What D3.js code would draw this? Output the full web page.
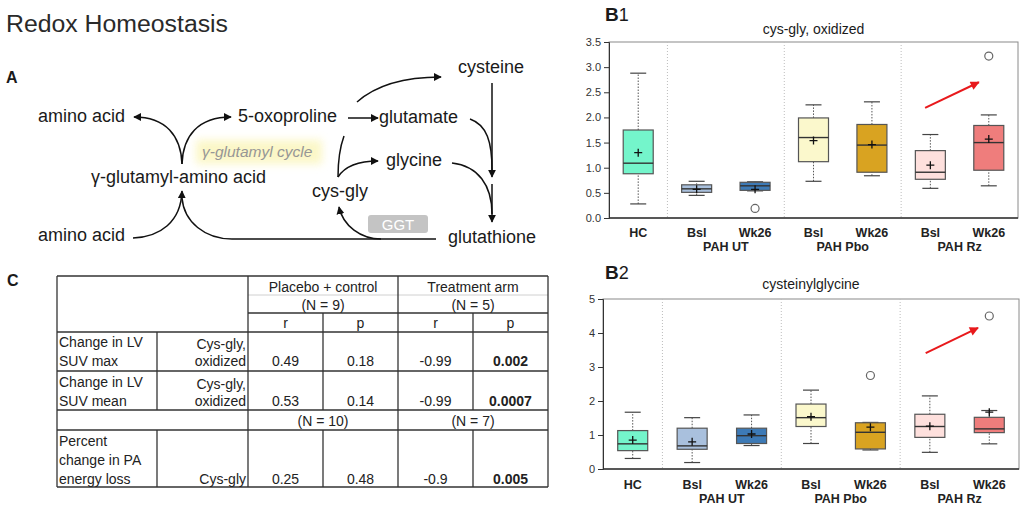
<!DOCTYPE html>
<html lang="en">
<head>
<meta charset="UTF-8">
<title>Redox Homeostasis</title>
<script src="https://d3js.org/d3.v7.min.js"></script>
<style>
  body { margin: 0; background: #fff; }
  text { font-family: "Liberation Sans", Arial, sans-serif; fill: #1a1a1a; }
</style>
</head>
<body>
<script>
// ---- box plot data ----
var categories = ["HC", "Bsl", "Wk26", "Bsl", "Wk26", "Bsl", "Wk26"];
var groupNames = ["PAH UT", "PAH Pbo", "PAH Rz"];
var groupStart = [1, 3, 5];
var boxColors = ["#74f5cb", "#a9c0dd", "#3d7ab6", "#fbf8cc", "#d9a321", "#fee0dd", "#ef7d7c"];

// B1 cys-gly, oxidized
var b1Min    = [0.28, 0.45, 0.54, 0.73, 0.84, 0.59, 0.64];
var b1Q1     = [0.88, 0.51, 0.55, 1.12, 0.91, 0.77, 0.95];
var b1Median = [1.09, 0.58, 0.64, 1.60, 1.45, 0.91, 1.50];
var b1Q3     = [1.75, 0.66, 0.71, 1.99, 1.86, 1.34, 1.84];
var b1Max    = [2.88, 0.73, 0.72, 2.25, 2.31, 1.66, 2.05];
var b1Mean   = [1.30, 0.57, 0.57, 1.54, 1.46, 1.05, 1.57];
var b1Outliers = [[2, 0.19], [6, 3.22]];
var b1Ticks = [0, 0.5, 1, 1.5, 2, 2.5, 3, 3.5];
var b1Arrow = [[4.91, 2.19], [5.83, 2.70]];

// B2 cysteinylglycine
var b2Min    = [0.31, 0.19, 0.69, 0.75, 0.56, 0.49, 0.74];
var b2Q1     = [0.54, 0.58, 0.75, 1.25, 0.59, 0.93, 1.07];
var b2Median = [0.74, 0.68, 0.98, 1.51, 1.08, 1.25, 1.18];
var b2Q3     = [1.13, 1.20, 1.20, 1.91, 1.36, 1.61, 1.52];
var b2Max    = [1.67, 1.51, 1.59, 2.32, 1.37, 2.15, 1.72];
var b2Mean   = [0.85, 0.80, 1.03, 1.54, 1.23, 1.26, 1.67];
var b2Outliers = [[4, 2.75], [6, 4.50]];
var b2Ticks = [0, 1, 2, 3, 4, 5];
var b2Arrow = [[4.93, 3.41], [5.81, 4.15]];

// ---- table data ----
var armNames = ["Placebo + control", "Treatment arm"];
var armN1 = ["(N = 9)", "(N = 5)"];
var armN2 = ["(N = 10)", "(N = 7)"];
var rowLabels = [["Change in LV", "SUV max"], ["Change in LV", "SUV mean"], ["Percent", "change in PA", "energy loss"]];
var rowMetab = [["Cys-gly,", "oxidized"], ["Cys-gly,", "oxidized"], ["Cys-gly"]];
var rPbo = ["0.49", "0.53", "0.25"];
var pPbo = ["0.18", "0.14", "0.48"];
var rRz = ["-0.99", "-0.99", "-0.9"];
var pRz = ["0.002", "0.0007", "0.005"];

var svg = d3.select("body").append("svg")
    .attr("width", 1026)
    .attr("height", 509);

var defs = svg.append("defs");
defs.append("marker").attr("id", "ah")
    .attr("viewBox", "0 0 10 10").attr("refX", 9).attr("refY", 5)
    .attr("markerWidth", 8).attr("markerHeight", 8)
    .attr("markerUnits", "userSpaceOnUse").attr("orient", "auto")
    .append("path").attr("d", "M0,0L10,5L0,10z").attr("fill", "#111");
defs.append("marker").attr("id", "ahRed")
    .attr("viewBox", "0 0 10 10").attr("refX", 9).attr("refY", 5)
    .attr("markerWidth", 10).attr("markerHeight", 9)
    .attr("markerUnits", "userSpaceOnUse").attr("orient", "auto")
    .append("path").attr("d", "M0,0L10,5L0,10z").attr("fill", "#e8191c");
defs.append("filter").attr("id", "glow")
    .attr("x", "-20%").attr("y", "-60%").attr("width", "140%").attr("height", "220%")
    .append("feGaussianBlur").attr("stdDeviation", 4);

// ---- titles ----
svg.append("text").attr("x", 6).attr("y", 32)
    .attr("font-size", 23).attr("textLength", 222).attr("lengthAdjust", "spacingAndGlyphs")
    .style("fill", "#2a2a2a").text("Redox Homeostasis");
svg.append("text").attr("x", 6).attr("y", 83).attr("font-size", 16).attr("font-weight", "bold").text("A");
svg.append("text").attr("x", 7).attr("y", 286).attr("font-size", 16).attr("font-weight", "bold").text("C");

// ---- pathway diagram ----
var dia = svg.append("g");
dia.append("rect").attr("x", 196).attr("y", 140).attr("width", 126).attr("height", 24)
    .attr("fill", "#fbf6bd").attr("opacity", 0.85).attr("filter", "url(#glow)");
dia.append("text").attr("x", 202).attr("y", 157).attr("font-size", 15.5)
    .attr("font-style", "italic").style("fill", "#969696").text("γ-glutamyl cycle");

var nodes = [
    ["amino acid", 38, 122], ["5-oxoproline", 238, 122], ["glutamate", 379, 123],
    ["cysteine", 458, 73], ["glycine", 386, 166], ["cys-gly", 312, 197],
    ["glutathione", 448, 243], ["γ-glutamyl-amino acid", 91, 183], ["amino acid", 38, 241]
];
dia.selectAll("text.node").data(nodes).enter().append("text")
    .attr("class", "node")
    .attr("x", function (d) { return d[1]; })
    .attr("y", function (d) { return d[2]; })
    .attr("font-size", 18)
    .text(function (d) { return d[0]; });

var links = [
    ["M182,164 C181,136 166,117 134,117", true],
    ["M182,164 C183,136 198,117 231,117", true],
    ["M133,238 C160,237 181,222 182,191", true],
    ["M436,239 L232,239 C205,239 184,222 182,198", false],
    ["M348,118 L378,118", true],
    ["M357,102 C375,86 403,77 441,77", true],
    ["M338,177 C338,160 340,147 344,136", false],
    ["M338,177 C345,166 358,161 378,161", true],
    ["M492,83 L492,177", true],
    ["M492,184 L492,222", true],
    ["M470,119 C487,125 492,142 492,170", false],
    ["M452,163 C478,166 492,185 492,214", false],
    ["M381,239 C361,239 343,226 339,207", true]
];
dia.selectAll("path.link").data(links).enter().append("path")
    .attr("class", "link")
    .attr("d", function (d) { return d[0]; })
    .attr("fill", "none").attr("stroke", "#111").attr("stroke-width", 1.5)
    .attr("marker-end", function (d) { return d[1] ? "url(#ah)" : null; });

dia.append("rect").attr("x", 368).attr("y", 215).attr("width", 60).attr("height", 18)
    .attr("rx", 3).attr("fill", "#c4c4c4");
dia.append("text").attr("x", 398).attr("y", 230).attr("text-anchor", "middle")
    .attr("font-size", 15).style("fill", "#fff").text("GGT");

// ---- table ----
var colX = [57, 157, 248, 323, 398, 473, 548];
var tab = svg.append("g");
function hline(x1, x2, y, c) {
    tab.append("line").attr("x1", x1).attr("x2", x2).attr("y1", y).attr("y2", y)
        .attr("stroke", c || "#333").attr("stroke-width", c ? 1 : 1.3);
}
function vline(x, y1, y2) {
    tab.append("line").attr("x1", x).attr("x2", x).attr("y1", y1).attr("y2", y2)
        .attr("stroke", "#333").attr("stroke-width", 1.3);
}
hline(57, 548, 276);
hline(248, 548, 295, "#d0d0d0");
hline(248, 548, 313);
[332, 371, 410, 430, 487].forEach(function (y) { hline(57, 548, y); });
vline(57, 276, 487); vline(548, 276, 487); vline(248, 276, 487); vline(398, 276, 487);
[157, 323, 473].forEach(function (x) {
    vline(x, x === 157 ? 332 : 313, 410);
    vline(x, 430, 487);
});

function cell(t, x, y, anchor, bold) {
    tab.append("text").attr("x", x).attr("y", y).attr("font-size", 14)
        .attr("text-anchor", anchor || "middle")
        .attr("font-weight", bold ? "bold" : null)
        .style("fill", "#222").text(t);
}
armNames.forEach(function (t, i) {
    var cx = (colX[2 + i * 2] + colX[4 + i * 2]) / 2;
    cell(t, cx, 292);
    cell(armN1[i], cx, 310);
    cell(armN2[i], cx, 426);
    cell("r", (colX[2 + i * 2] + colX[3 + i * 2]) / 2, 328);
    cell("p", (colX[3 + i * 2] + colX[4 + i * 2]) / 2, 328);
});
var rowBase = [366, 406, 484];
rowLabels.forEach(function (lines, r) {
    var n = lines.length;
    lines.forEach(function (t, k) { cell(t, 59, rowBase[r] - (n - 1 - k) * 19, "start"); });
    var m = rowMetab[r];
    m.forEach(function (t, k) { cell(t, 246, rowBase[r] - (m.length - 1 - k) * 17, "end"); });
    var cols = [rPbo[r], pPbo[r], rRz[r], pRz[r]];
    cols.forEach(function (t, c) {
        cell(t, (colX[2 + c] + colX[3 + c]) / 2, rowBase[r], "middle", c === 3);
    });
});

// ---- box plots ----
function boxPlot(cfg) {
    var g = svg.append("g");
    var x = d3.scaleBand().domain(d3.range(categories.length)).range([cfg.left, cfg.right]);
    var xi = d3.scaleLinear().domain([-0.5, categories.length - 0.5]).range([cfg.left, cfg.right]);
    var y = d3.scaleLinear().domain([0, cfg.yMax]).range([cfg.bottom, cfg.top]);
    var cx = function (i) { return x(i) + x.bandwidth() / 2; };
    var bw = 30;

    g.append("text").attr("x", 605).attr("y", cfg.labelY).attr("font-size", 19)
        .attr("font-weight", "bold").text("B")
        .append("tspan").attr("font-weight", "normal").attr("font-size", 18).text(cfg.num);
    g.append("text").attr("x", (cfg.left + cfg.right) / 2).attr("y", cfg.titleY)
        .attr("text-anchor", "middle").attr("font-size", 14).text(cfg.title);

    // frame + separators
    g.append("rect").attr("x", cfg.left).attr("y", cfg.top)
        .attr("width", cfg.right - cfg.left).attr("height", cfg.bottom - cfg.top)
        .attr("fill", "none").attr("stroke", "#8a8a8a");
    g.selectAll("line.sep").data(groupStart).enter().append("line")
        .attr("x1", function (d) { return x(d); }).attr("x2", function (d) { return x(d); })
        .attr("y1", cfg.top).attr("y2", cfg.bottom)
        .attr("stroke", "#bdbdbd").attr("stroke-dasharray", "1,2");

    var ax = g.append("g").attr("transform", "translate(" + cfg.left + ",0)")
        .call(d3.axisLeft(y).tickValues(cfg.ticks).tickSize(5).tickFormat(cfg.fmt));
    ax.select(".domain").attr("stroke", "#333");
    ax.selectAll(".tick line").attr("stroke", "#333");
    ax.selectAll(".tick text").attr("font-size", 11).attr("font-family", "Liberation Sans, Arial")
        .style("fill", "#333").attr("x", -8);
    g.append("line").attr("x1", cfg.left).attr("x2", cfg.right)
        .attr("y1", cfg.bottom).attr("y2", cfg.bottom).attr("stroke", "#333").attr("stroke-width", 1.3);

    var idx = d3.range(categories.length);
    // whiskers
    idx.forEach(function (i) {
        [[cfg.min[i], cfg.q1[i]], [cfg.q3[i], cfg.max[i]]].forEach(function (p) {
            g.append("line").attr("x1", cx(i)).attr("x2", cx(i))
                .attr("y1", y(p[0])).attr("y2", y(p[1]))
                .attr("stroke", "#555").attr("stroke-dasharray", "1.5,1.5");
        });
        [cfg.min[i], cfg.max[i]].forEach(function (v) {
            g.append("line").attr("x1", cx(i) - 8).attr("x2", cx(i) + 8)
                .attr("y1", y(v)).attr("y2", y(v)).attr("stroke", "#444").attr("stroke-width", 1.2);
        });
    });
    g.selectAll("rect.box").data(idx).enter().append("rect")
        .attr("class", "box")
        .attr("x", function (i) { return cx(i) - bw / 2; })
        .attr("y", function (i) { return y(cfg.q3[i]); })
        .attr("width", bw)
        .attr("height", function (i) { return y(cfg.q1[i]) - y(cfg.q3[i]); })
        .attr("fill", function (i) { return boxColors[i]; })
        .attr("stroke", "#555").attr("stroke-width", 1.2);
    g.selectAll("line.med").data(idx).enter().append("line")
        .attr("x1", function (i) { return cx(i) - bw / 2; })
        .attr("x2", function (i) { return cx(i) + bw / 2; })
        .attr("y1", function (i) { return y(cfg.median[i]); })
        .attr("y2", function (i) { return y(cfg.median[i]); })
        .attr("stroke", "#333").attr("stroke-width", 1.4);
    g.selectAll("path.mean").data(idx).enter().append("path")
        .attr("d", function (i) {
            var px = cx(i), py = y(cfg.mean[i]);
            return "M" + (px - 4) + "," + py + "H" + (px + 4) + "M" + px + "," + (py - 4) + "V" + (py + 4);
        })
        .attr("stroke", "#111").attr("stroke-width", 1.3);
    g.selectAll("circle.out").data(cfg.outliers).enter().append("circle")
        .attr("cx", function (d) { return cx(d[0]); })
        .attr("cy", function (d) { return y(d[1]); })
        .attr("r", 4).attr("fill", "#fff").attr("stroke", "#666").attr("stroke-width", 1.2);

    g.append("line")
        .attr("x1", xi(cfg.arrow[0][0])).attr("y1", y(cfg.arrow[0][1]))
        .attr("x2", xi(cfg.arrow[1][0])).attr("y2", y(cfg.arrow[1][1]))
        .attr("stroke", "#e8191c").attr("stroke-width", 2).attr("marker-end", "url(#ahRed)");

    g.selectAll("text.cat").data(idx).enter().append("text")
        .attr("x", function (i) { return cx(i); }).attr("y", cfg.catY)
        .attr("text-anchor", "middle").attr("font-size", 12.5).attr("font-weight", "bold")
        .style("fill", "#222")
        .text(function (i) { return categories[i]; });
    g.selectAll("text.grp").data(groupNames).enter().append("text")
        .attr("x", function (d, k) { return (cx(groupStart[k]) + cx(groupStart[k] + 1)) / 2; })
        .attr("y", cfg.catY + 14)
        .attr("text-anchor", "middle").attr("font-size", 12.5).attr("font-weight", "bold")
        .style("fill", "#222")
        .text(function (d) { return d; });
}

boxPlot({
    left: 609, right: 1018, top: 42, bottom: 218, yMax: 3.5,
    ticks: b1Ticks, fmt: d3.format(".1f"),
    min: b1Min, q1: b1Q1, median: b1Median, q3: b1Q3, max: b1Max, mean: b1Mean,
    outliers: b1Outliers, arrow: b1Arrow,
    num: "1", labelY: 21, title: "cys-gly, oxidized", titleY: 34, catY: 237
});
boxPlot({
    left: 603, right: 1019, top: 299, bottom: 469, yMax: 5,
    ticks: b2Ticks, fmt: d3.format("d"),
    min: b2Min, q1: b2Q1, median: b2Median, q3: b2Q3, max: b2Max, mean: b2Mean,
    outliers: b2Outliers, arrow: b2Arrow,
    num: "2", labelY: 279, title: "cysteinylglycine", titleY: 289, catY: 489
});
</script>
</body>
</html>
